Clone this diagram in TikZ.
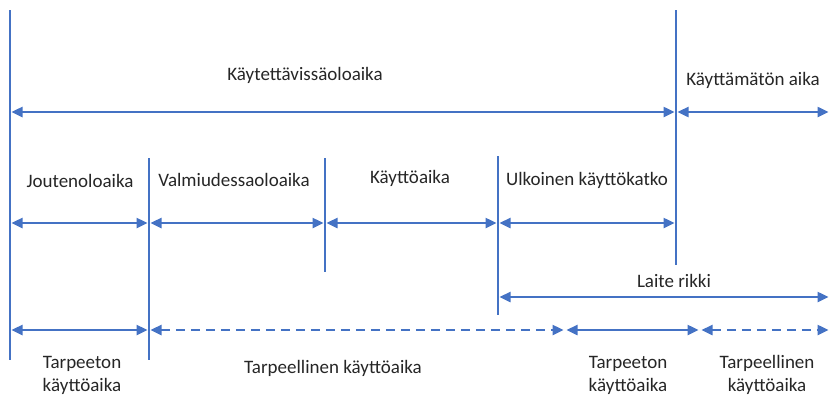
\documentclass[tikz,border=0pt]{standalone}
\usepackage{fontspec}
\setmainfont{Carlito}
\usetikzlibrary{arrows.meta}
\definecolor{lineblue}{HTML}{4472C4}
\begin{document}
\begin{tikzpicture}[x=1pt,y=-1pt,
  bar/.style={draw=lineblue,line width=2.4pt},
  span/.style={draw=lineblue,line width=2.4pt,
    {Triangle[length=11pt,width=10pt]}-{Triangle[length=11pt,width=10pt]},shorten <=1.5pt,shorten >=1.5pt},
  dspan/.style={span,dash pattern=on 9pt off 6pt},
  lbl/.style={font=\fontsize{19}{23}\selectfont,text=black!85,inner sep=0pt,align=center}]
\useasboundingbox (0,0) rectangle (830,397);

% vertical boundaries
\coordinate (v0t) at (10,10);   \coordinate (v0b) at (10,360);
\coordinate (v1t) at (149,158); \coordinate (v1b) at (149,360);
\coordinate (v2t) at (325,158); \coordinate (v2b) at (325,272);
\coordinate (v3t) at (498,156); \coordinate (v3b) at (498,315);
\coordinate (v4t) at (676,10);  \coordinate (v4b) at (676,265);
\draw[bar] (v0t) -- (v0b);
\draw[bar] (v1t) -- (v1b);
\draw[bar] (v2t) -- (v2b);
\draw[bar] (v3t) -- (v3b);
\draw[bar] (v4t) -- (v4b);

% top level
\coordinate (a0) at (10,112); \coordinate (a1) at (676,112); \coordinate (a2) at (830,112);
\draw[span] (a0) -- (a1);
\draw[span] (a1) -- (a2);
\node[lbl] (kt) at (305,75) {Käytettävissäoloaika};
\node[lbl] (ka) at (753,80) {Käyttämätön aika};

% second level
\coordinate (b0) at (10,223); \coordinate (b1) at (149,223); \coordinate (b2) at (325,223);
\coordinate (b3) at (498,223); \coordinate (b4) at (676,223);
\draw[span] (b0) -- (b1);
\draw[span] (b1) -- (b2);
\draw[span] (b2) -- (b3);
\draw[span] (b3) -- (b4);
\node[lbl] (jo) at (80,181) {Joutenoloaika};
\node[lbl] (va) at (234,180) {Valmiudessaoloaika};
\node[lbl] (kk) at (410,178) {Käyttöaika};
\node[lbl] (uk) at (587,180) {Ulkoinen käyttökatko};

% failure
\coordinate (c0) at (498,297); \coordinate (c1) at (830,297);
\draw[span] (c0) -- (c1);
\node[lbl] (lr) at (674,281) {Laite rikki};

% bottom level
\coordinate (d0) at (10,330); \coordinate (d1) at (149,330); \coordinate (d2) at (565,330);
\coordinate (d3) at (700,330); \coordinate (d4) at (830,330);
\draw[span] (d0) -- (d1);
\draw[dspan] (d1) -- (d2);
\draw[span] (d2) -- (d3);
\draw[dspan] (d3) -- (d4);
\node[lbl] (t1) at (82,375) {Tarpeeton\\käyttöaika};
\node[lbl] (t2) at (333,368) {Tarpeellinen käyttöaika};
\node[lbl] (t3) at (628,375) {Tarpeeton\\käyttöaika};
\node[lbl] (t4) at (767,375) {Tarpeellinen\\käyttöaika};
\end{tikzpicture}
\end{document}
